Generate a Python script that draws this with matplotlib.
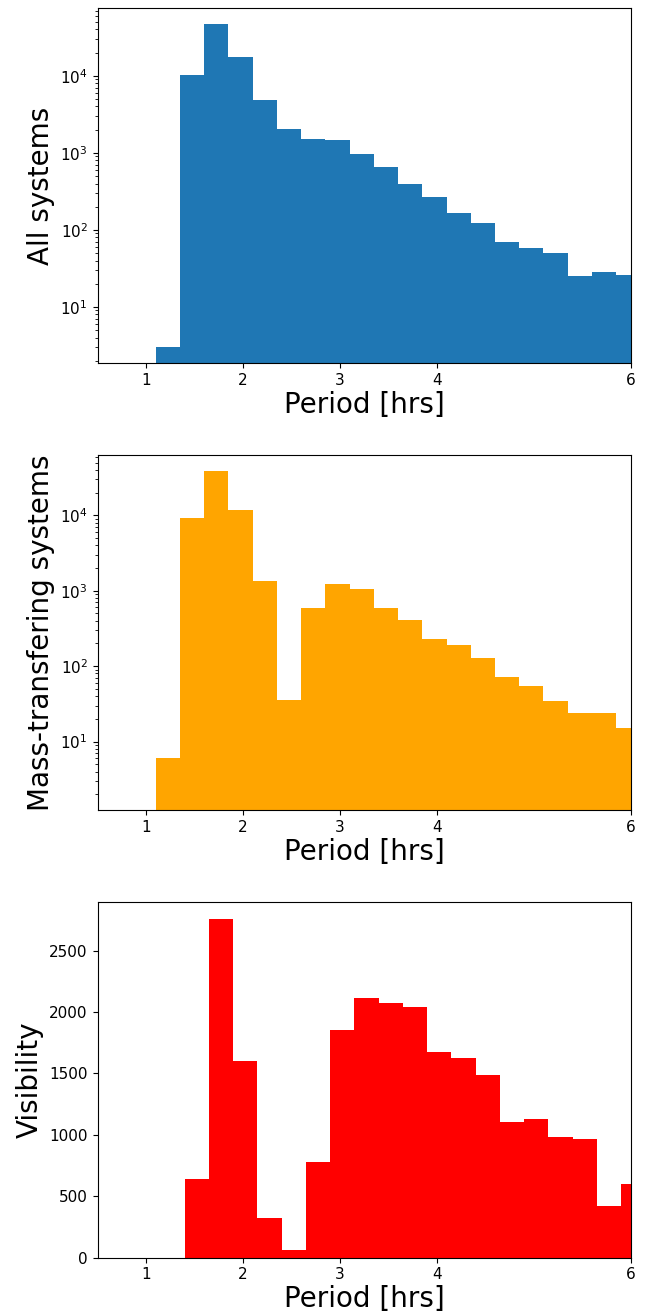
import numpy as np
import matplotlib
matplotlib.use("Agg")
import matplotlib.pyplot as plt

# Bin edges (hours)
edges_all = [1.10, 1.35, 1.60, 1.85, 2.10, 2.35, 2.60, 2.85, 3.10, 3.35, 3.60,
             3.85, 4.10, 4.35, 4.60, 4.85, 5.10, 5.35, 5.60, 5.85, 6.10]
edges_vis = [1.40, 1.65, 1.90, 2.15, 2.40, 2.65, 2.90, 3.15, 3.40, 3.65, 3.90,
             4.15, 4.40, 4.65, 4.90, 5.15, 5.40, 5.65, 5.90, 6.15]

all_systems = [3, 10200, 47300, 17700, 4870, 2050, 1520, 1475, 980, 658, 395,
               269, 167, 124, 70, 58, 50, 25, 28.5, 26]
mass_transfer = [6.1, 9200, 38600, 11760, 1350, 35.6, 596, 1240, 1062, 596, 413,
                 231, 193, 130, 72, 55, 34.7, 24, 24, 15]
visibility = [639, 2760, 1600, 322, 61, 778, 1852, 2113, 2072, 2040, 1673,
              1624, 1486, 1103, 1127, 981, 965, 419, 598]

xticks = [1, 2, 3, 4, 6]

W, H = 657, 1313
fig = plt.figure(figsize=(W / 100, H / 100), dpi=100)

def axes_px(left, right, top, bottom):
    return fig.add_axes([left / W, 1 - bottom / H, (right - left) / W, (bottom - top) / H])

ax1 = axes_px(97.5, 630.7, 8, 363)
ax2 = axes_px(97.5, 630.7, 455, 810)
ax3 = axes_px(97.5, 630.7, 902, 1257.5)

e = np.array(edges_all)
ax1.hist(e[:-1], bins=e, weights=all_systems, color="#1f77b4", log=True)
ax1.set_ylim(1.87, 76000)
ax1.set_ylabel("All systems", fontsize=20)

ax2.hist(e[:-1], bins=e, weights=mass_transfer, color="orange", log=True)
ax2.set_ylim(1.24, 63000)
ax2.set_ylabel("Mass-transfering systems", fontsize=20)

ev = np.array(edges_vis)
ax3.hist(ev[:-1], bins=ev, weights=visibility, color="red")
ax3.set_ylim(0, 2895)
ax3.set_ylabel("Visibility", fontsize=20)

for ax in (ax1, ax2, ax3):
    ax.set_xlim(0.5, 6.0)
    ax.set_xticks(xticks)
    ax.set_xticklabels([str(t) for t in xticks])
    ax.set_xlabel("Period [hrs]", fontsize=20, labelpad=2)
    ax.tick_params(labelsize=11)

fig.savefig("out.png", dpi=100)
